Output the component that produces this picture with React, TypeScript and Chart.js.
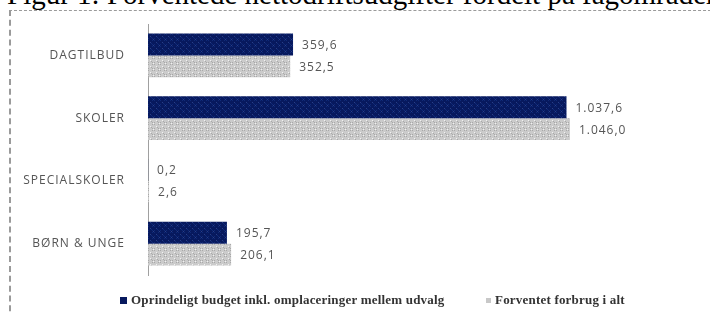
import React, { useEffect, useRef } from "react";
import { Chart, registerables } from "chart.js";

Chart.register(...registerables);

const categories = ["DAGTILBUD", "SKOLER", "SPECIALSKOLER", "BØRN & UNGE"];
const budgetValues = [359.6, 1037.6, 0.2, 195.7];
const forbrugValues = [352.5, 1046.0, 2.6, 206.1];
const seriesNames = [
  "Oprindeligt budget inkl. omplaceringer mellem udvalg",
  "Forventet forbrug i alt",
];
const titleText = "Figur 1: Forventede nettodriftsudgifter fordelt på fagområder";

function makePattern(base: string, dot: string, cross: string): CanvasPattern | string {
  const c = document.createElement("canvas");
  c.width = 6;
  c.height = 6;
  const ctx = c.getContext("2d");
  if (!ctx) return base;
  ctx.fillStyle = base;
  ctx.fillRect(0, 0, 6, 6);
  ctx.fillStyle = dot;
  ctx.fillRect(0, 0, 1, 1);
  ctx.fillRect(3, 3, 1, 1);
  ctx.fillStyle = cross;
  ctx.fillRect(1, 1, 1, 1);
  ctx.fillRect(2, 2, 1, 1);
  ctx.fillRect(4, 4, 1, 1);
  ctx.fillRect(4, 2, 1, 1);
  ctx.fillRect(2, 4, 1, 1);
  const p = ctx.createPattern(c, "repeat");
  return p || base;
}

function fmt(v: number): string {
  const s = v.toFixed(1);
  const [i, d] = s.split(".");
  const withDots = i.replace(/\B(?=(\d{3})+(?!\d))/g, ".");
  return withDots + "," + d;
}

const spacing = {
  id: "spacing",
  beforeDraw(chart: any) {
    (chart.ctx as any).letterSpacing = "1px";
  },
  afterDraw(chart: any) {
    (chart.ctx as any).letterSpacing = "0px";
  },
};

const valueLabels = {
  id: "valueLabels",
  afterDatasetsDraw(chart: any) {
    const ctx = chart.ctx;
    ctx.save();
    (ctx as any).letterSpacing = "1px";
    ctx.font = "12px 'Open Sans'";
    ctx.fillStyle = "#555555";
    ctx.textBaseline = "middle";
    ctx.textAlign = "left";
    chart.data.datasets.forEach((ds: any, di: number) => {
      const meta = chart.getDatasetMeta(di);
      meta.data.forEach((bar: any, i: number) => {
        const v = ds.data[i];
        ctx.fillText(fmt(v), bar.x + 9, bar.y + 1);
      });
    });
    ctx.restore();
  },
};

export default function App() {
  const ref = useRef<HTMLCanvasElement>(null);
  useEffect(() => {
    if (!ref.current) return;
    const navy = makePattern("#07195e", "#2a3f86", "#0f2a78");
    const gray = makePattern("#cbcbcb", "#f2f2f2", "#a9a9a9");
    const chart = new Chart(ref.current, {
      type: "bar",
      data: {
        labels: categories,
        datasets: [
          {
            label: seriesNames[0],
            data: budgetValues,
            backgroundColor: navy as any,
            borderWidth: 0,
            categoryPercentage: 0.7,
            barPercentage: 1,
          },
          {
            label: seriesNames[1],
            data: forbrugValues,
            backgroundColor: gray as any,
            borderWidth: 0,
            categoryPercentage: 0.7,
            barPercentage: 1,
          },
        ],
      },
      options: {
        indexAxis: "y",
        animation: false,
        responsive: false,
        maintainAspectRatio: false,
        layout: { padding: { left: 0, right: 78, top: 24, bottom: 40 } },
        plugins: {
          legend: { display: false },
          tooltip: { enabled: false },
          title: { display: false },
        },
        scales: {
          x: {
            display: false,
            min: 0,
            max: 1200,
          },
          y: {
            grid: { display: false },
            border: { display: true, color: "#a0a0a0", width: 1, dash: [1, 1] },
            ticks: {
              color: "#555555",
              font: { family: "'Open Sans'", size: 12 },
              padding: 15,
            },
            afterFit(scale: any) {
              scale.width = 148;
            },
          },
        },
      },
      plugins: [spacing, valueLabels],
    });
    return () => chart.destroy();
  }, []);

  const legendText: React.CSSProperties = {
    position: "absolute",
    top: 292,
    fontFamily: "'Liberation Serif', 'Times New Roman', serif",
    fontSize: 13,
    lineHeight: "16px",
    fontWeight: "bold",
    letterSpacing: "0.2px",
    color: "#333",
    whiteSpace: "nowrap",
  };

  return (
    <div
      style={{
        position: "fixed",
        left: 0,
        top: 0,
        width: 710,
        height: 315,
        overflow: "hidden",
        background: "#fff",
      }}
    >
      <div
        style={{
          position: "absolute",
          left: 7,
          top: -20,
          fontFamily: "'Liberation Serif', 'Times New Roman', serif",
          fontSize: 29,
          lineHeight: "29px",
          whiteSpace: "nowrap",
          color: "#000",
        }}
      >
        {titleText}
      </div>
      <div
        style={{
          position: "absolute",
          left: 9,
          top: 10,
          width: 720,
          height: 320,
          borderLeft: "2px dashed #9a9a9a",
          borderTop: "1px dashed #9a9a9a",
        }}
      />
      <canvas
        ref={ref}
        width={710}
        height={315}
        style={{ position: "absolute", left: 0, top: 0 }}
      />
      <span
        style={{
          position: "absolute",
          left: 120,
          top: 297,
          width: 7,
          height: 7,
          background: "#07195e",
        }}
      />
      <span style={{ ...legendText, left: 131 }}>{seriesNames[0]}</span>
      <span
        style={{
          position: "absolute",
          left: 486,
          top: 298,
          width: 5,
          height: 5,
          background: "#c8c8c8",
        }}
      />
      <span style={{ ...legendText, left: 495 }}>{seriesNames[1]}</span>
    </div>
  );
}
